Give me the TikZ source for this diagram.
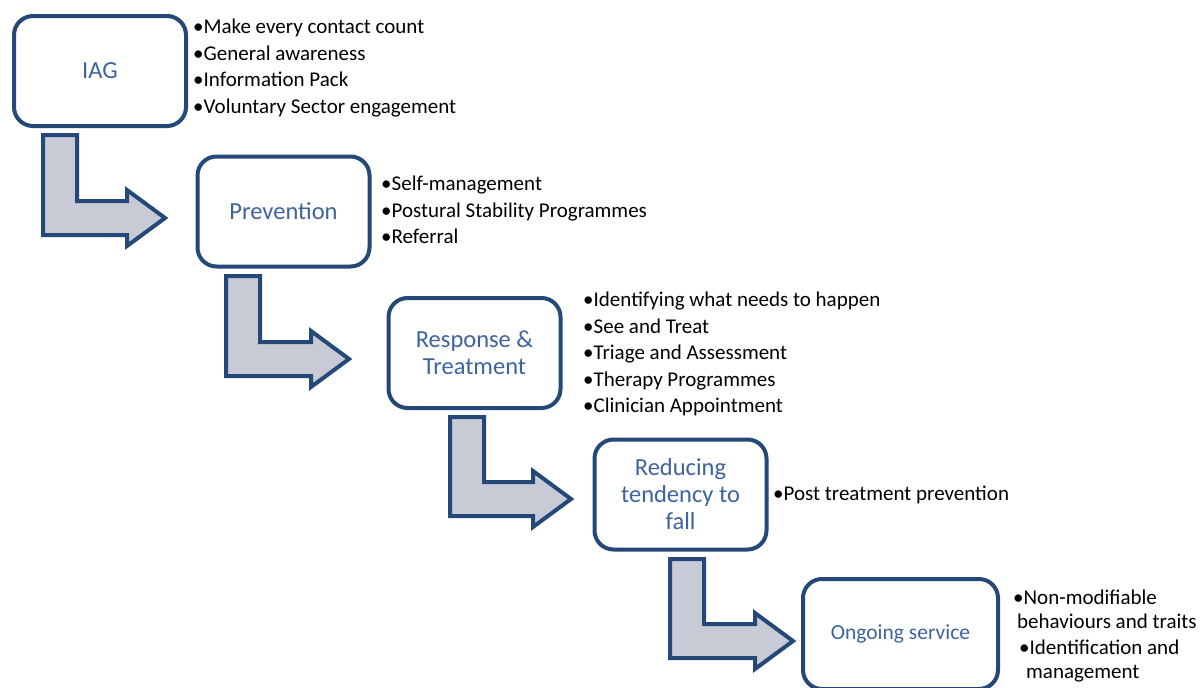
\documentclass[tikz,border=0pt]{standalone}
\usepackage{fontspec}
\setmainfont{Carlito}
\definecolor{dblue}{RGB}{36,72,120}
\definecolor{lblue}{RGB}{62,100,160}
\definecolor{agray}{RGB}{200,203,214}
\tikzset{
  box/.style={draw=dblue, line width=4pt, rounded corners=19pt, fill=white,
    minimum width=172pt, minimum height=110pt, align=center, inner sep=0pt,
    text=lblue, font=\fontsize{24.5}{27}\selectfont},
  item/.style={anchor=base west, inner sep=0pt, text=black, font=\fontsize{21}{25}\selectfont},
  bent/.style={draw=dblue, line width=4pt, fill=agray, line join=miter}
}
\newcommand\bentarrow[4]{%
  \draw[bent] (#1+2,#2+2) -- (#1+36,#2+2) -- (#1+36,#4-17) -- (#3-41,#4-17) -- (#3-41,#4-28)
   -- (#3-3,#4) -- (#3-41,#4+28) -- (#3-41,#4+17) -- (#1+2,#4+17) -- cycle;}
\begin{document}
\begin{tikzpicture}[x=1pt,y=-1pt]
\useasboundingbox (0,0) rectangle (1203,688);
% boxes
\node[box] (iag) at (100,71) {IAG};
\node[box] (prev) at (283.5,211.5) {Prevention};
\node[box] (resp) at (474.5,353) {Response \&\\Treatment};
\node[box] (red) at (680.5,494.5) {Reducing\\tendency to\\fall};
\node[box, minimum width=195pt, font=\fontsize{21.5}{25}\selectfont] (ong) at (900.5,634) {Ongoing service};
% bent arrows
\bentarrow{41}{133}{168}{218}
\bentarrow{224}{274}{352}{359}
\bentarrow{448}{415}{574}{499}
\bentarrow{668}{557}{796}{641}
% lists
\node[item] (i1) at (193,33) {•Make every contact count};
\node[item] (i2) at (193,60) {•General awareness};
\node[item] (i3) at (193,86.5) {•Information Pack};
\node[item] (i4) at (193,113) {•Voluntary Sector engagement};
\node[item] (p1) at (381,190) {•Self-management};
\node[item] (p2) at (381,217) {•Postural Stability Programmes};
\node[item] (p3) at (381,243) {•Referral};
\node[item] (r1) at (583,306) {•Identifying what needs to happen};
\node[item] (r2) at (583,333) {•See and Treat};
\node[item] (r3) at (583,359) {•Triage and Assessment};
\node[item] (r4) at (583,386) {•Therapy Programmes};
\node[item] (r5) at (583,412) {•Clinician Appointment};
\node[item] (t1) at (773,500) {•Post treatment prevention};
\node[item] (o1) at (1013,604) {•Non-modifiable};
\node[item] (o2) at (1017,628) {behaviours and traits};
\node[item] (o3) at (1019,654) {•Identification and};
\node[item] (o4) at (1026,678) {management};
\end{tikzpicture}
\end{document}
